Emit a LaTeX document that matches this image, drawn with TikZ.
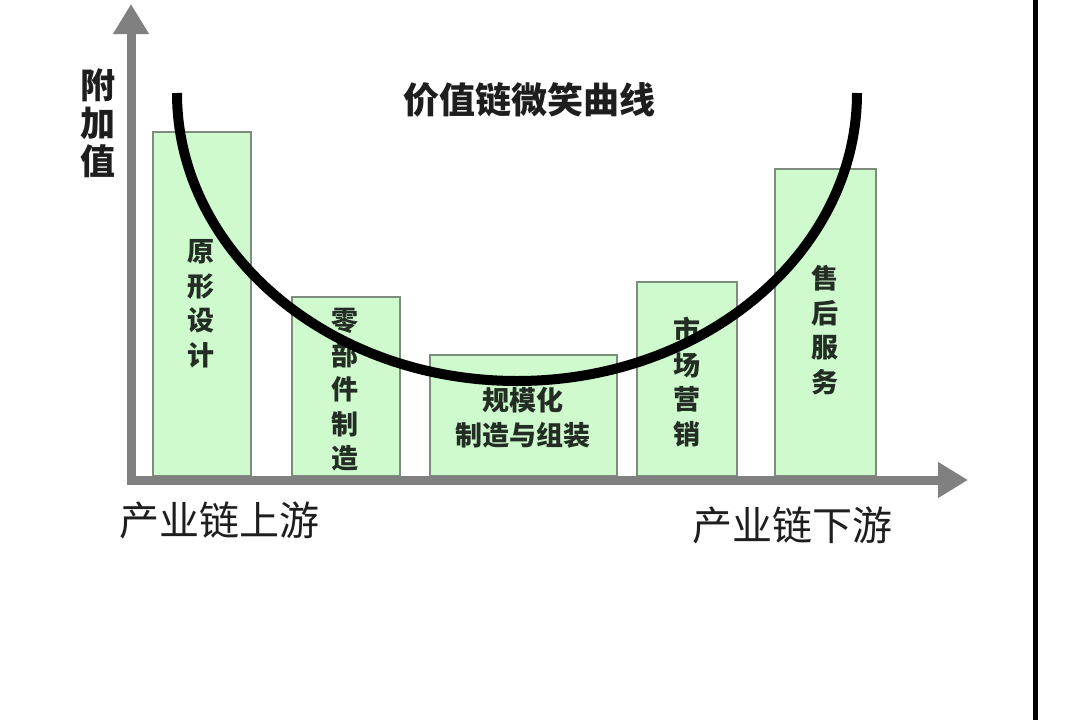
\documentclass[tikz,border=0pt]{standalone}
\usepackage{fontspec}
\setmainfont{Noto Sans CJK SC}
\usetikzlibrary{arrows.meta}
\definecolor{BarGreen}{RGB}{206,250,206}
\definecolor{BarEdge}{RGB}{125,140,125}
\definecolor{AxisGray}{RGB}{128,128,128}
\definecolor{LabelInk}{RGB}{35,45,35}
\definecolor{TextInk}{RGB}{30,30,30}

\begin{document}
\begin{tikzpicture}[
    x=1pt,
    y=-1pt,
    bar/.style={
        draw=BarEdge,
        line width=2.5pt,
        fill=BarGreen
    },
    axis/.style={
        draw=AxisGray,
        line width=9pt,
        line join=miter,
        {Triangle[length=30pt,width=34pt]}-{Triangle[length=30pt,width=34pt]}
    },
    smile/.style={
        draw=black,
        line width=10pt
    },
    barlabel/.style={
        font=\fontsize{27}{34.5}\selectfont\bfseries,
        text=LabelInk,
        align=center,
        inner sep=0pt
    },
    axislabel/.style={
        font=\fontsize{40}{42}\selectfont,
        text=TextInk,
        align=center,
        inner sep=0pt
    }
]
\useasboundingbox (0,0) rectangle (1080,720);

% bars
\draw[bar] (153,476) rectangle (251,132);
\draw[bar] (292,476) rectangle (400,297);
\draw[bar] (430,476) rectangle (617,355);
\draw[bar] (637,476) rectangle (737,282);
\draw[bar] (775,476) rectangle (876,169);

\node[barlabel] (design) at (201,304) {原\\形\\设\\计};
\node[barlabel] (parts) at (345,390) {零\\部\\件\\制\\造};
\node[barlabel] (assembly) at (523,418) {规模化\\制造与组装};
\node[barlabel] (market) at (687,382) {市\\场\\营\\销};
\node[barlabel] (service) at (825,330) {售\\后\\服\\务};

% axes
\coordinate (origin) at (131,480);
\coordinate (ytip) at (131,4);
\coordinate (xtip) at (968,480);
\draw[axis] (ytip) -- (origin) -- (xtip);

\node[axislabel, font=\fontsize{35}{38}\selectfont\bfseries] (yname) at (98,123) {附\\加\\值};
\node[axislabel, font=\fontsize{36}{38}\selectfont\bfseries] (title) at (529,100) {价值链微笑曲线};
\node[axislabel] (upstream) at (219,520) {产业链上游};
\node[axislabel] (downstream) at (792,525) {产业链下游};

% smile curve
\coordinate (smileL) at (177,93);
\draw[smile] (smileL) arc[start angle=180, end angle=0, x radius=340, y radius=288];

% right border
\coordinate (edgeT) at (1035,0);
\coordinate (edgeB) at (1035,720);
\draw[line width=5pt] (edgeT) -- (edgeB);

\end{tikzpicture}
\end{document}
